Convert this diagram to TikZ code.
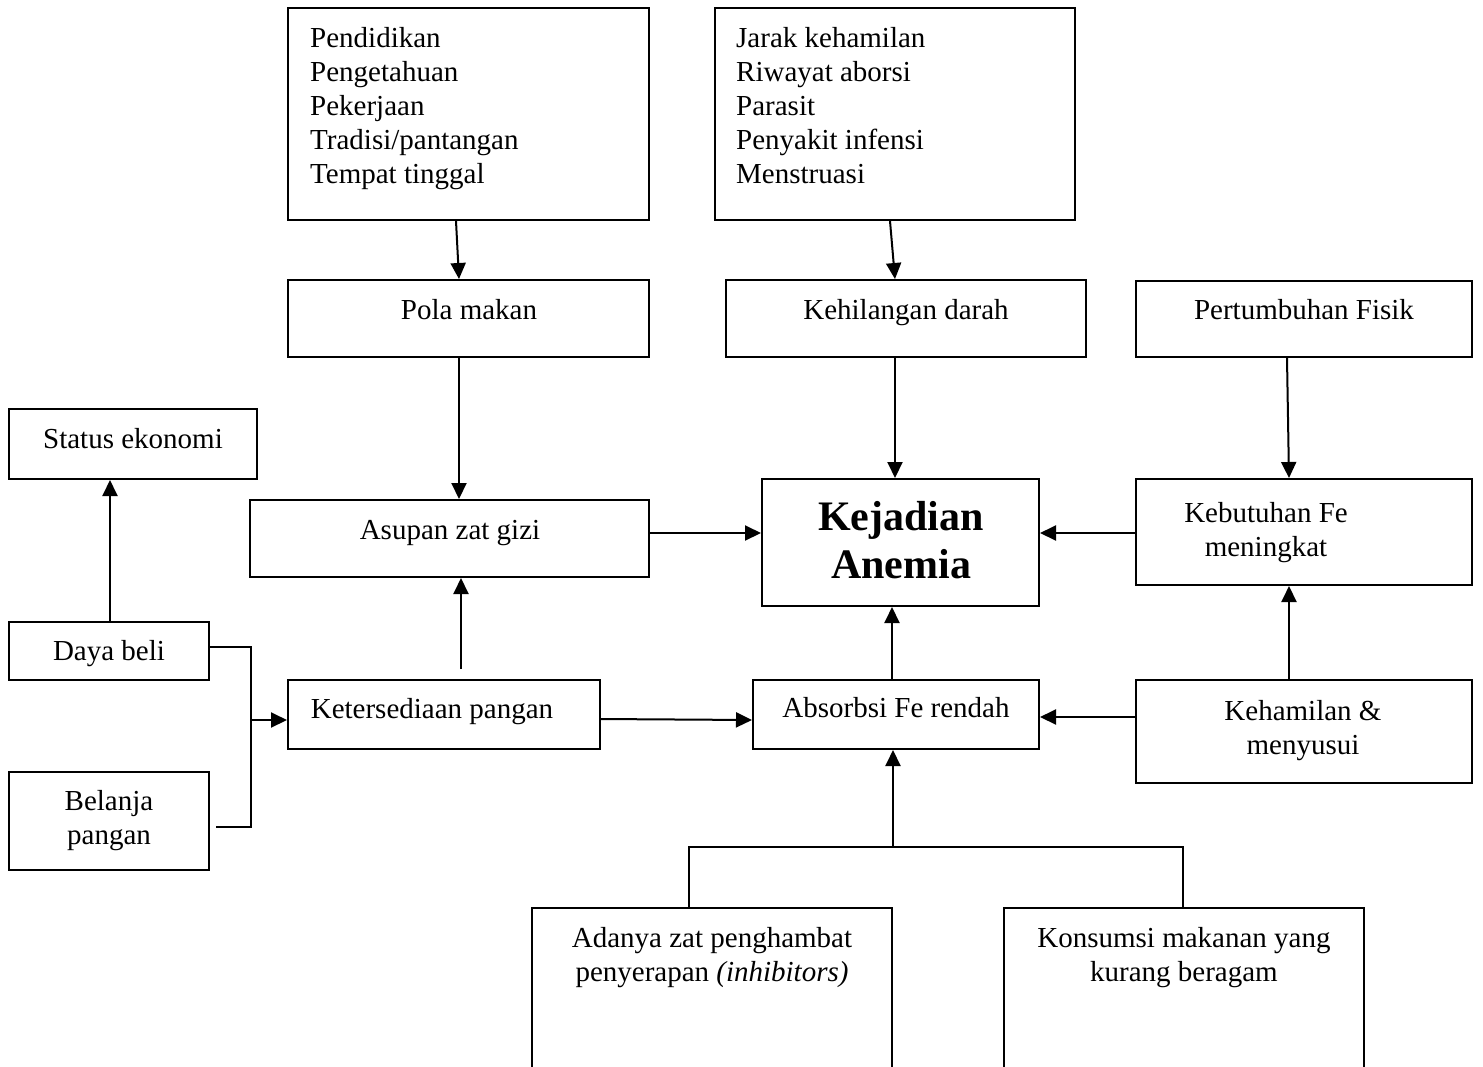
\documentclass[tikz,border=0pt]{standalone}
\usepackage{fontspec}
\setmainfont{Liberation Serif}
\usetikzlibrary{fit,arrows.meta}
\tikzset{
  box/.style={draw, line width=2pt, inner sep=0pt, rectangle},
  txt/.style={anchor=base, inner sep=0pt, font=\fontsize{29}{34}\selectfont, align=center},
  ltxt/.style={anchor=base west, inner sep=0pt, font=\fontsize{29}{34}\selectfont, align=left},
  btxt/.style={anchor=base, inner sep=0pt, font=\fontsize{42}{48}\selectfont\bfseries, align=center},
  arr/.style={line width=2pt, -{Triangle[length=16pt,width=15pt]}},
  ln/.style={line width=2pt}
}
\begin{document}
\begin{tikzpicture}[x=1pt,y=-1pt]
\useasboundingbox[fill=white] (0,0) rectangle (1483,1066);
% boxes
\node[box, fit={(288,8) (649,220)}] (fac1) {};
\node[box, fit={(715,8) (1075,220)}] (fac2) {};
\node[box, fit={(288,280) (649,357)}] (pola) {};
\node[box, fit={(726,280) (1086,357)}] (hilang) {};
\node[box, fit={(1136,281) (1472,357)}] (tumbuh) {};
\node[box, fit={(9,409) (257,479)}] (status) {};
\node[box, fit={(250,500) (649,577)}] (asupan) {};
\node[box, fit={(762,479) (1039,606)}] (anemia) {};
\node[box, fit={(1136,479) (1472,585)}] (butuh) {};
\node[box, fit={(9,622) (209,680)}] (daya) {};
\node[box, fit={(288,680) (600,749)}] (sedia) {};
\node[box, fit={(753,680) (1039,749)}] (absorb) {};
\node[box, fit={(1136,680) (1472,783)}] (hamil) {};
\node[box, fit={(9,772) (209,870)}] (belanja) {};
\node[box, fit={(532,908) (892,1090)}] (hambat) {};
\node[box, fit={(1004,908) (1364,1090)}] (konsumsi) {};
% texts (base = baseline of last line)
\node[ltxt] (fac1t) at (310,183) {Pendidikan\\Pengetahuan\\Pekerjaan\\Tradisi/pantangan\\Tempat tinggal};
\node[ltxt] (fac2t) at (736,183) {Jarak kehamilan\\Riwayat aborsi\\Parasit\\Penyakit infensi\\Menstruasi};
\node[txt] (polat) at (469,319) {Pola makan};
\node[txt] (hilangt) at (906,319) {Kehilangan darah};
\node[txt] (tumbuht) at (1304,319) {Pertumbuhan Fisik};
\node[txt] (statust) at (133,448) {Status ekonomi};
\node[txt] (asupant) at (450,539) {Asupan zat gizi};
\node[btxt] (anemiat) at (901,578) {Kejadian\\Anemia};
\node[txt] (butuht) at (1266,556) {Kebutuhan Fe\\meningkat};
\node[txt] (dayat) at (109,660) {Daya beli};
\node[txt] (sediat) at (432,718) {Ketersediaan pangan};
\node[txt] (absorbt) at (896,717) {Absorbsi Fe rendah};
\node[txt] (hamilt) at (1303,754) {Kehamilan \&\\menyusui};
\node[txt] (belanjat) at (109,844) {Belanja\\pangan};
\node[txt] (hambatt) at (712,981) {Adanya zat penghambat\\penyerapan \textit{(inhibitors)}};
\node[txt] (konsumsit) at (1184,981) {Konsumsi makanan yang\\kurang beragam};
% connectors
\draw[arr] (fac1.south -| 456,0) -- (pola.north -| 459,0);
\draw[arr] (fac2.south -| 890,0) -- (hilang.north -| 895,0);
\draw[arr] (pola.south -| 459,0) -- (asupan.north -| 459,0);
\draw[arr] (hilang.south -| 895,0) -- (anemia.north -| 895,0);
\draw[arr] (tumbuh.south -| 1287,0) -- (butuh.north -| 1289,0);
\draw[arr] (asupan.east |- 0,533) -- (anemia.west |- 0,533);
\draw[arr] (butuh.west |- 0,533) -- (anemia.east |- 0,533);
\draw[arr] (daya.north -| 110,0) -- (status.south -| 110,0);
\draw[arr] ([yshift=10pt]sedia.north -| 461,0) -- (asupan.south -| 461,0);
\draw[arr] (sedia.east |- 0,719) -- (absorb.west |- 0,720);
\draw[arr] (absorb.north -| 892,0) -- (anemia.south -| 892,0);
\draw[arr] (hamil.north -| 1289,0) -- (butuh.south -| 1289,0);
\draw[arr] (hamil.west |- 0,717) -- (absorb.east |- 0,717);
\coordinate (jt) at (251,647);
\coordinate (jm) at (251,720);
\coordinate (jb) at (251,827);
\draw[ln] (daya.east |- jt) -- (jt) -- (jb) -- ([xshift=6pt]belanja.east |- jb);
\draw[arr] (jm) -- (sedia.west |- jm);
\coordinate (bj) at (893,847);
\draw[ln] (hambat.north -| 689,0) -- (689,847) -- (1183,847) -- (konsumsi.north -| 1183,0);
\draw[arr] (bj) -- (absorb.south -| bj);
\end{tikzpicture}
\end{document}
